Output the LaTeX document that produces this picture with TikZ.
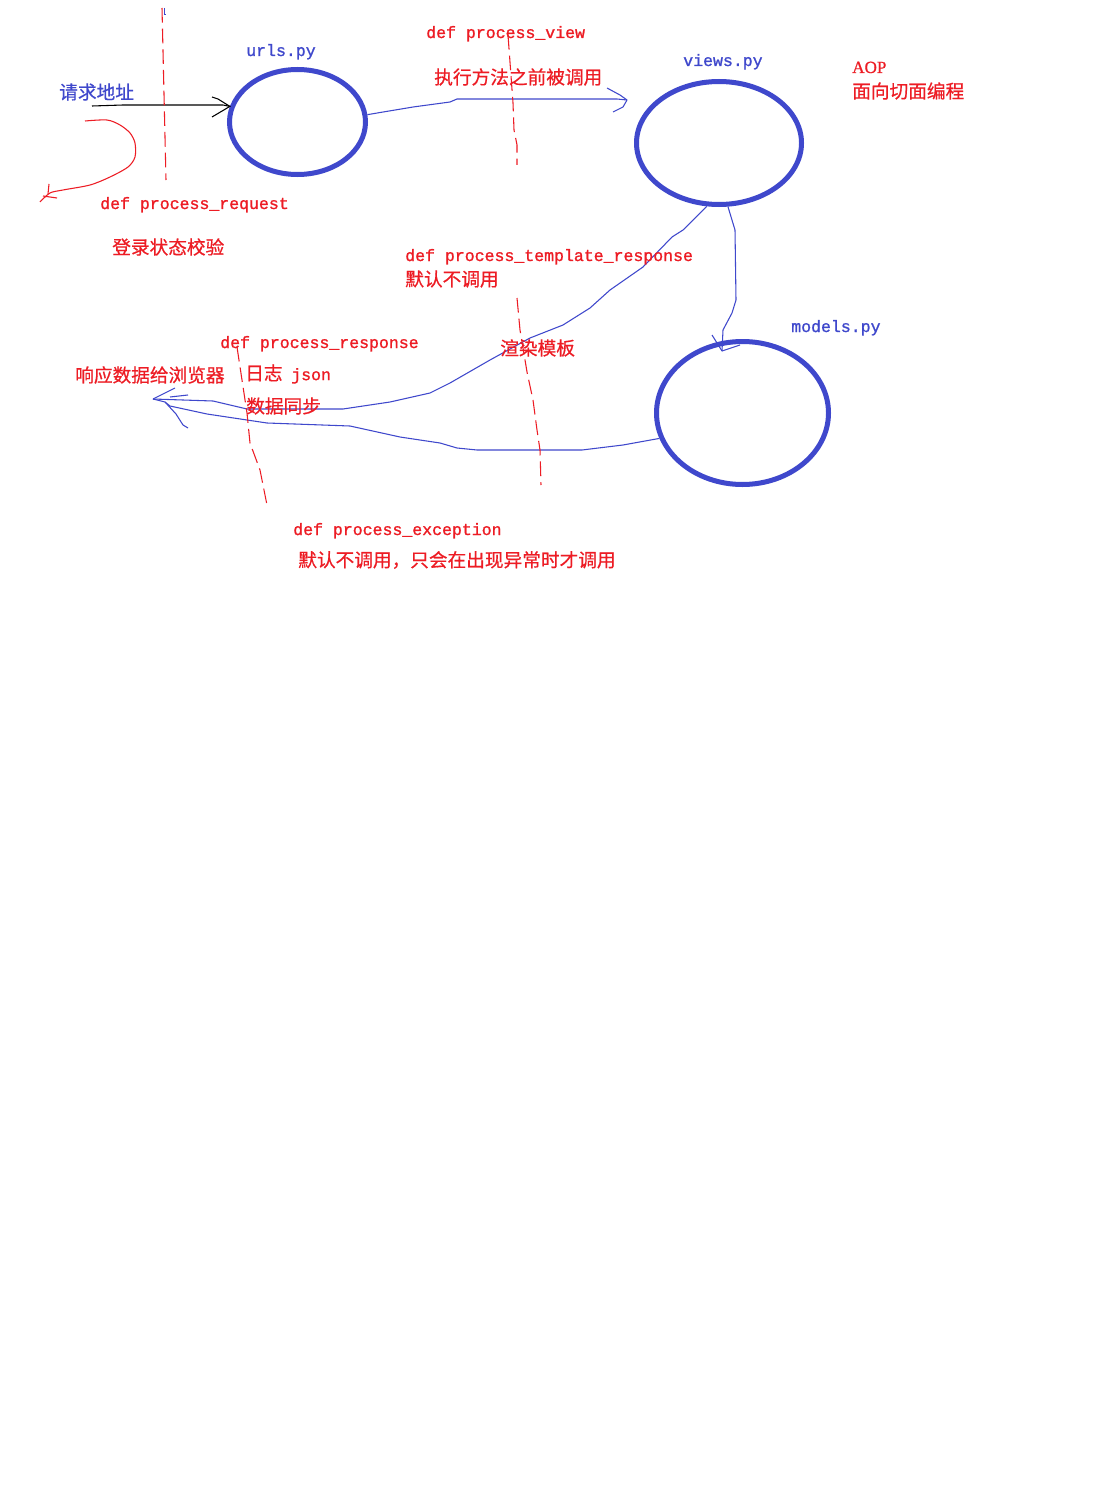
\documentclass[tikz,border=0pt]{standalone}
\usepackage{fontspec}
\usetikzlibrary{shapes.geometric}
\newfontfamily\cjk[FakeBold=0.6]{Noto Sans CJK SC}
\newfontfamily\mono[FakeBold=1.2]{Liberation Mono}
\newfontfamily\capsserif[FakeBold=0.8]{Liberation Serif}
\definecolor{pblue}{RGB}{63,72,204}
\definecolor{pred}{RGB}{237,28,36}
\tikzset{
  x=0.75pt, y=-0.75pt,
  ring/.style={ellipse, draw=pblue, line width=3.75pt, inner sep=0pt},
  code/.style={anchor=base west, inner sep=0pt, text=pred, font=\mono\fontsize{12.4}{14}\selectfont},
  zh/.style={anchor=west, inner sep=0pt, text=pred, font=\cjk\fontsize{14}{16}\selectfont},
  flow/.style={draw=pblue, line width=0.8pt, line join=round},
  cut/.style={draw=pred, line width=0.8pt, dash pattern=on 11pt off 4.5pt},
}
\begin{document}
\begin{tikzpicture}
\fill[white] (0,0) rectangle (1116,1491);
\useasboundingbox (0,0) rectangle (1116,1491);

% the three modules
\node[ring, minimum width=102pt, minimum height=78.75pt] (urls) at (297.5,122) {};
\node[ring, minimum width=123.75pt, minimum height=92.25pt] (views) at (719,143) {};
\node[ring, minimum width=129pt, minimum height=107.25pt] (models) at (742.5,413) {};

\node[code, text=pblue] (urlslbl) at (246,56) {urls.py};
\node[code, text=pblue] (viewslbl) at (683,66) {views.py};
\node[code, text=pblue] (modelslbl) at (791,332) {models.py};

% incoming request
\node[zh, text=pblue] (req) at (59,92) {请求地址};
\coordinate (reqstart) at (92,106);
\draw[black, line width=0.8pt] (reqstart) -- (123,105) -- (223,105) -- (urls.167);
\draw[black, line width=0.8pt] (212,97) -- (218,99) -- (urls.167) -- (212,117);

% process_request hook
\draw[cut] (162,8) -- (166,180);
\draw[pblue, line width=0.6pt] (164,8) -- (164,14) -- (166,14);
\draw[pred, line width=0.8pt, line join=round] plot[smooth, tension=0.5] coordinates
  {(85,121) (107,120) (120,125) (130,133) (135,143) (135,157) (128,167) (110,177) (90,185) (63,190) (50,193) (40,202)};
\draw[pred, line width=0.8pt] (49,184) -- (48,194);
\draw[pred, line width=0.8pt] (43,196) -- (57,198);
\node[code] (preq) at (100,209) {def process\_request};
\node[zh] (preqnote) at (112,247) {登录状态校验};

% urls -> views
\coordinate (pvtip) at (627,100);
\draw[flow] (urls.6) -- (413,107) -- (450,102) -- (457,99) -- (617,99) -- (pvtip);
\draw[flow] (607,88) -- (620,95) -- (pvtip) -- (623,107) -- (613,112);
\draw[cut] (508,35) -- (513,103) -- (514,130) -- (517,145) -- (517,165);
\node[code] (pview) at (426,38) {def process\_view};
\node[zh] (pviewnote) at (434,77) {执行方法之前被调用};

% AOP note
\node[code, font=\capsserif\fontsize{12.8}{14}\selectfont] (aop) at (852,73) {AOP};
\node[zh] (aopnote) at (852,91) {面向切面编程};

% views -> models
\coordinate (modtip) at (722,351);
\draw[flow] (views.278) -- (735,230) -- (736,300) -- (732,313) -- (723,330) -- (modtip);
\draw[flow] (712,335) -- (modtip) -- (740,345);

% views -> browser (rendered template)
\coordinate (resptip) at (153,399);
\draw[flow] (views.259) -- (683,230) -- (672,237) -- (643,267) -- (610,290) -- (590,308)
  -- (563,325) -- (530,338) -- (490,360) -- (450,383) -- (430,393) -- (390,402)
  -- (343,409) -- (247,409) -- (213,401) -- (resptip);

% models -> browser
\coordinate (backjoin) at (165,402);
\draw[flow] (models.197) -- (623,445) -- (582,450) -- (477,450) -- (457,448) -- (440,443)
  -- (400,437) -- (350,426) -- (267,423) -- (207,414) -- (170,406) -- (backjoin) -- (resptip);
\draw[flow] (resptip) -- (175,388);
\draw[flow] (backjoin) -- (176,414) -- (183,425) -- (188,428);
\draw[flow] (170,397) -- (188,395);

% template response hook
\draw[cut] (517,298) -- (520,330) -- (527,372) -- (533,400) -- (537,430) -- (540,450) -- (541,485);
\node[code] (ptpl) at (405,261) {def process\_template\_response};
\node[zh] (ptplnote) at (405,279) {默认不调用};
\node[zh] (render) at (500,348) {渲染模板};

% response hook
\draw[cut] (237,347) -- (242,380) -- (247,413) -- (250,443) -- (260,470) -- (267,505);
\node[code] (presp) at (220,348) {def process\_response};
\node[zh] (browser) at (75,375) {响应数据给浏览器};
\node[zh] (log) at (245,374) {日志\hspace{6.5pt}{\mono\fontsize{12.4}{14}\selectfont json}};
\node[zh] (sync) at (246,406) {数据同步};

% exception hook
\node[code] (pexc) at (293,535) {def process\_exception};
\node[zh] (pexcnote) at (298,560) {默认不调用，只会在出现异常时才调用};
\end{tikzpicture}
\end{document}
